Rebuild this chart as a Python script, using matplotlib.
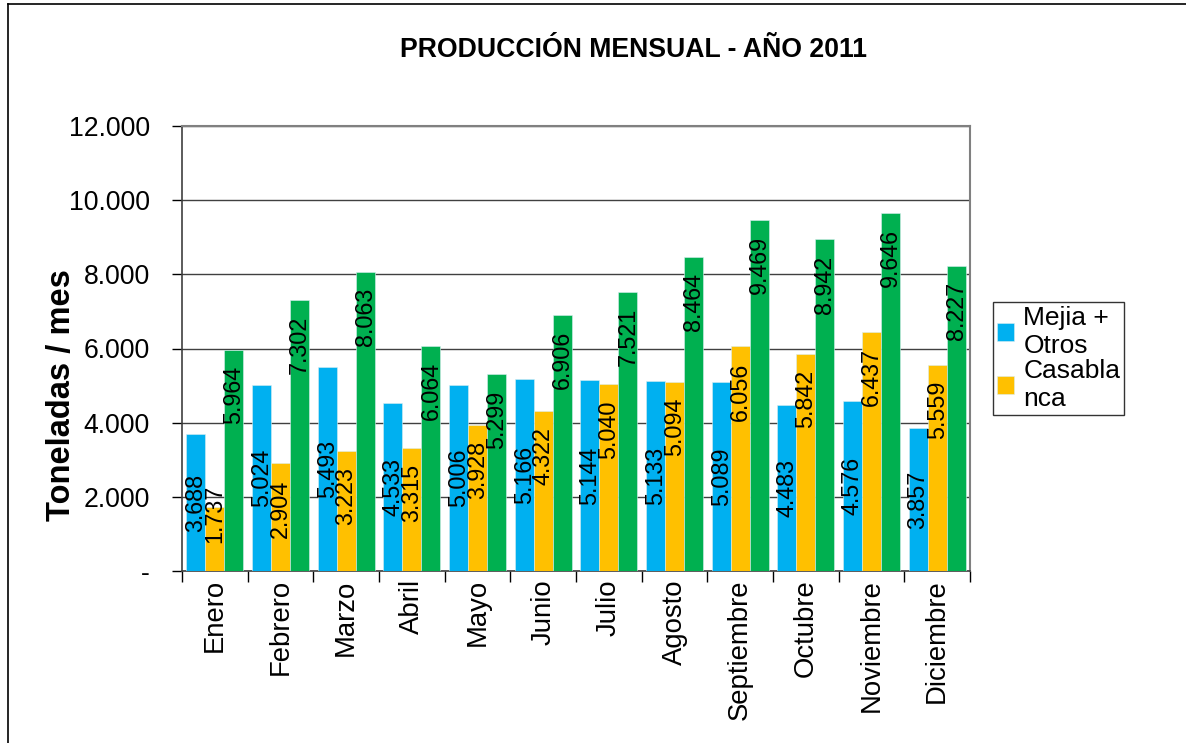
import numpy as np
import matplotlib
matplotlib.use("Agg")
import matplotlib.pyplot as plt
from matplotlib.lines import Line2D

plt.rcParams["font.family"] = ["Liberation Sans", "DejaVu Sans"]

meses = ["Enero", "Febrero", "Marzo", "Abril", "Mayo", "Junio", "Julio",
         "Agosto", "Septiembre", "Octubre", "Noviembre", "Diciembre"]
mejia = [3688, 5024, 5493, 4533, 5006, 5166, 5144, 5133, 5089, 4483, 4576, 3857]
casablanca = [1737, 2904, 3223, 3315, 3928, 4322, 5040, 5094, 6056, 5842, 6437, 5559]
total = [5964, 7302, 8063, 6064, 5299, 6906, 7521, 8464, 9469, 8942, 9646, 8227]
yticks = [0, 2000, 4000, 6000, 8000, 10000, 12000]

W, H = 1186, 743
fig = plt.figure(figsize=(W / 100, H / 100), dpi=100)
ax = fig.add_axes([182 / W, 1 - 571 / H, (970 - 182) / W, (571 - 126) / H])

def fmt(v):
    return "-" if v == 0 else f"{v:,}".replace(",", ".")

x = np.arange(len(meses))
bw = 0.29
series = [
    (mejia, "#00B0F0", "Mejia +\nOtros", -bw, "center"),
    (casablanca, "#FFC000", "Casabla\nnca", 0, "end"),
    (total, "#00B050", None, bw, "end"),
]
px_per_unit = (571 - 126) / 12000
lab_fs = 16.8
handles = []
for vals, color, name, off, pos in series:
    b = ax.bar(x + off, vals, bw, color=color, edgecolor="#d8eef0", linewidth=0.4, zorder=3)
    if name:
        handles.append((b, name))
    for xi, v in zip(x + off, vals):
        txt = fmt(v)
        if pos == "center":
            ax.text(xi, v / 2, txt, rotation=90, ha="center", va="center",
                    fontsize=lab_fs, zorder=4)
        else:
            # inside end, but pushed up when the bar is too short
            top_px = v * px_per_unit - 16
            if top_px - 58 < 28:
                ax.annotate(txt, (xi, 0), xytext=(0, 28), textcoords="offset pixels",
                            rotation=90, ha="center", va="bottom", fontsize=lab_fs, zorder=4)
            else:
                ax.annotate(txt, (xi, v), xytext=(0, -16), textcoords="offset pixels",
                            rotation=90, ha="center", va="top", fontsize=lab_fs, zorder=4)

ax.set_xlim(-0.5, len(meses) - 0.5)
ax.set_ylim(0, 12000)
ax.set_yticks(yticks)
ax.set_yticklabels([fmt(v) for v in yticks], fontsize=19.2)
ax.yaxis.grid(True, color="#404040", linewidth=1.0, zorder=0)
ax.set_axisbelow(True)
ax.tick_params(axis="y", direction="out", length=7, width=1, pad=16)

ax.set_xticks(x)
ax.set_xticklabels(meses, rotation=90, fontsize=19.8)
ax.tick_params(axis="x", length=0, pad=6)
ax.set_xticks(np.arange(-0.5, len(meses), 1), minor=True)
ax.tick_params(axis="x", which="minor", direction="out", length=8, width=1)

for s in ["top", "right"]:
    ax.spines[s].set_color("#808080")
    ax.spines[s].set_linewidth(1.5)
for s in ["left", "bottom"]:
    ax.spines[s].set_color("#404040")
    ax.spines[s].set_linewidth(1.2)

ax.set_ylabel("Toneladas / mes", fontsize=23.5, fontweight="bold")
ax.yaxis.set_label_coords(-0.133, 0.395)

fig.text(634 / W, 1 - 50 / H, "PRODUCCIÓN MENSUAL - AÑO 2011", ha="center",
         va="center", fontsize=19.2, fontweight="bold")

leg = fig.legend([h for h, _ in handles], [n for _, n in handles],
                 loc="upper left", bbox_to_anchor=(993 / W, 1 - 302 / H),
                 fontsize=19, frameon=True, fancybox=False, borderaxespad=0,
                 handlelength=0.65, handleheight=0.65, handletextpad=0.35,
                 labelspacing=0.05, borderpad=0.15)
leg.get_frame().set_edgecolor("black")
leg.get_frame().set_linewidth(1.0)

fig.add_artist(Line2D([8 / W, 8 / W], [0, 1 - 4 / H], color="black", lw=1.2))
fig.add_artist(Line2D([8 / W, 1], [1 - 4 / H, 1 - 4 / H], color="black", lw=1.2))

fig.savefig("out.png", dpi=100)
